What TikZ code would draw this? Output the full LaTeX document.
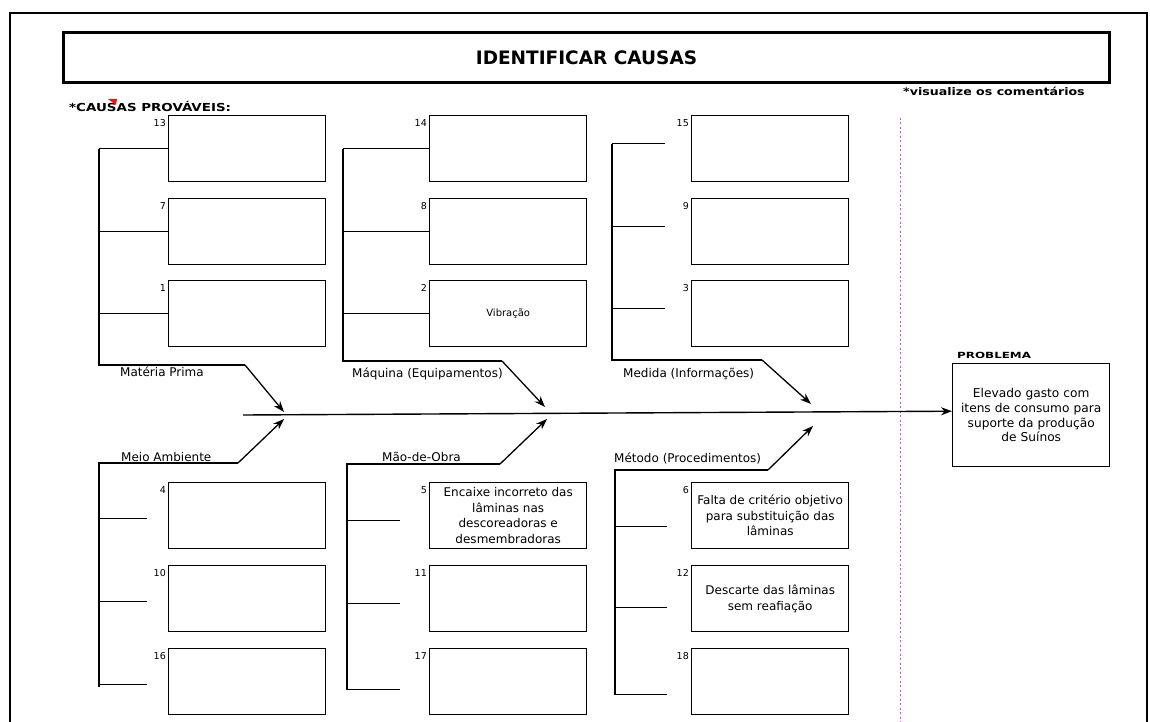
\documentclass[tikz,border=0pt]{standalone}
\usepackage{fontspec}
\setmainfont{DejaVu Sans}
\usetikzlibrary{arrows.meta}
\definecolor{guide}{RGB}{187,85,204}
\definecolor{flag}{RGB}{235,20,20}
\begin{document}
\begin{tikzpicture}[x=1pt,y=-1pt,
  frame/.style={line width=2.4pt},
  causebox/.style={draw, line width=1.4pt, anchor=north west, minimum height=66pt,
    text width=150pt, inner sep=3.5pt, align=center, font=\fontsize{12}{15.5}\selectfont},
  boxnum/.style={anchor=north east, inner sep=0pt, font=\fontsize{9.5}{10}\selectfont},
  bone/.style={line width=1.3pt},
  rib/.style={line width=1.3pt, -{Stealth[length=11pt,width=8pt]}},
  bonelabel/.style={anchor=base west, inner sep=0pt, font=\fontsize{12}{14}\selectfont},
  tag/.style={anchor=base west, inner sep=0pt, font=\bfseries\fontsize{11}{12}\selectfont},
]
\useasboundingbox (0,0) rectangle (1150,722);

% page frame (open at the bottom)
\draw[frame] (10,722) -- (10,13) -- (1147,13) -- (1147,722);

% heading
\node[draw, line width=3pt, anchor=north west, minimum width=1046pt, minimum height=50pt,
  inner sep=0pt, font=\bfseries\fontsize{18.5}{20}\selectfont] (title) at (62,31) {IDENTIFICAR CAUSAS};
\node[tag] (causas) at (69,112) {\scalebox{1.22}[1]{*CAUSAS PROVÁVEIS:}};
\fill[flag] (108,99) -- (117,99) -- (116,105) -- cycle;
\node[tag, font=\bfseries\fontsize{10.5}{12}\selectfont] (coment) at (903,96) {\scalebox{1.2}[1]{*visualize os comentários}};

% dotted separator
\draw[guide, line width=1pt, dash pattern=on 2pt off 2.5pt] (900,118) -- (900,722);

% cause boxes
\foreach \n/\x/\y in {13/168/115, 7/168/198, 1/168/280,
                      14/429/115, 8/429/198, 2/429/280,
                      15/691/115, 9/691/198, 3/691/280,
                      4/168/482, 10/168/565, 16/168/648,
                      5/429/482, 11/429/565, 17/429/648,
                      6/691/482, 12/691/565, 18/691/648}
  \node[causebox] (c\n) at (\x,\y) {};
\node[font=\fontsize{10}{11}\selectfont] at (c2.center) {Vibração};
\node[align=center, font=\fontsize{12}{15.5}\selectfont] at (c5.center)
  {Encaixe incorreto das\\lâminas nas\\descoreadoras e\\desmembradoras};
\node[align=center, font=\fontsize{12}{15.5}\selectfont] at (c6.center)
  {Falta de critério objetivo\\para substituição das\\lâminas};
\node[align=center, font=\fontsize{12}{15.5}\selectfont] at (c12.center)
  {Descarte das lâminas\\sem reafiação};
\foreach \n in {13,7,1,14,8,2,15,9,3,4,10,16,5,11,17,6,12,18}
  \node[boxnum] at ([xshift=-2pt,yshift=-4pt]c\n.north west) {\n};

% problem
\node[tag, font=\bfseries\fontsize{8.5}{10}\selectfont] (probtag) at (957,358) {\scalebox{1.4}[1]{PROBLEMA}};
\node[draw, line width=1.4pt, anchor=north west, minimum height=103pt, text width=150pt,
  inner sep=3.5pt, align=center, font=\fontsize{12.2}{14.8}\selectfont] (prob) at (952,363)
  {Elevado gasto com\\itens de consumo para\\suporte da produção\\de Suínos};

% spine
\coordinate (sp0) at (243,415);
\draw[line width=1.4pt, -{Stealth[length=11pt,width=8pt]}] (sp0) -- ([yshift=4pt]prob.west);

% Matéria Prima
\coordinate (mp0) at (99,365);
\coordinate (mp1) at (245,365);
\coordinate (mp2) at (284,412);
\draw[bone] (c13.west -| mp0) -- (mp0) -- (mp1);
\draw[rib] (mp1) -- (mp2);
\foreach \b in {c13,c7,c1} \draw[bone] (\b.west -| mp0) -- (\b.west);
\node[bonelabel] (lmp) at (120,376) {Matéria Prima};

% Máquina
\coordinate (mq0) at (343,361);
\coordinate (mq1) at (502,361);
\coordinate (mq2) at (545,407);
\draw[bone] (c14.west -| mq0) -- (mq0) -- (mq1);
\draw[rib] (mq1) -- (mq2);
\foreach \b in {c14,c8,c2} \draw[bone] (\b.west -| mq0) -- (\b.west);
\node[bonelabel] (lmq) at (352,377) {Máquina (Equipamentos)};

% Medida
\coordinate (md0) at (612,360);
\coordinate (md1) at (762,360);
\coordinate (md2) at (811,404);
\draw[bone] ([yshift=5pt]c15.west -| md0) -- (md0) -- (md1);
\draw[rib] (md1) -- (md2);
\foreach \b in {c15,c9,c3} \draw[bone] ([yshift=5pt]\b.west -| md0) -- ++(53,0);
\node[bonelabel] (lmd) at (623,377) {Medida (Informações)};

% Meio Ambiente
\coordinate (ma0) at (99,463);
\coordinate (ma1) at (238,463);
\coordinate (ma2) at (284,419);
\draw[bone] ([yshift=-5pt]c16.west -| ma0) -- (ma0) -- (ma1);
\draw[rib] (ma1) -- (ma2);
\foreach \b in {c4,c10,c16} \draw[bone] ([yshift=-3pt]\b.west -| ma0) -- ++(48,0);
\node[bonelabel] (lma) at (121,461) {Meio Ambiente};

% Mão-de-Obra
\coordinate (mo0) at (347,464);
\coordinate (mo1) at (500,464);
\coordinate (mo2) at (547,419);
\draw[bone] ([yshift=-8pt]c17.west -| mo0) -- (mo0) -- (mo1);
\draw[rib] (mo1) -- (mo2);
\foreach \b/\s in {c5/-5,c11/-5,c17/-8} \draw[bone] ([yshift=\s pt]\b.west -| mo0) -- ++(53,0);
\node[bonelabel] (lmo) at (382,461) {Mão-de-Obra};

% Método
\coordinate (me0) at (615,470);
\coordinate (me1) at (768,470);
\coordinate (me2) at (813,426);
\draw[bone] ([yshift=-13pt]c18.west -| me0) -- (me0) -- (me1);
\draw[rib] (me1) -- (me2);
\foreach \b/\s in {c6/-11,c12/-9,c18/-13} \draw[bone] ([yshift=\s pt]\b.west -| me0) -- ++(52,0);
\node[bonelabel] (lme) at (614,462) {Método (Procedimentos)};
\end{tikzpicture}
\end{document}
